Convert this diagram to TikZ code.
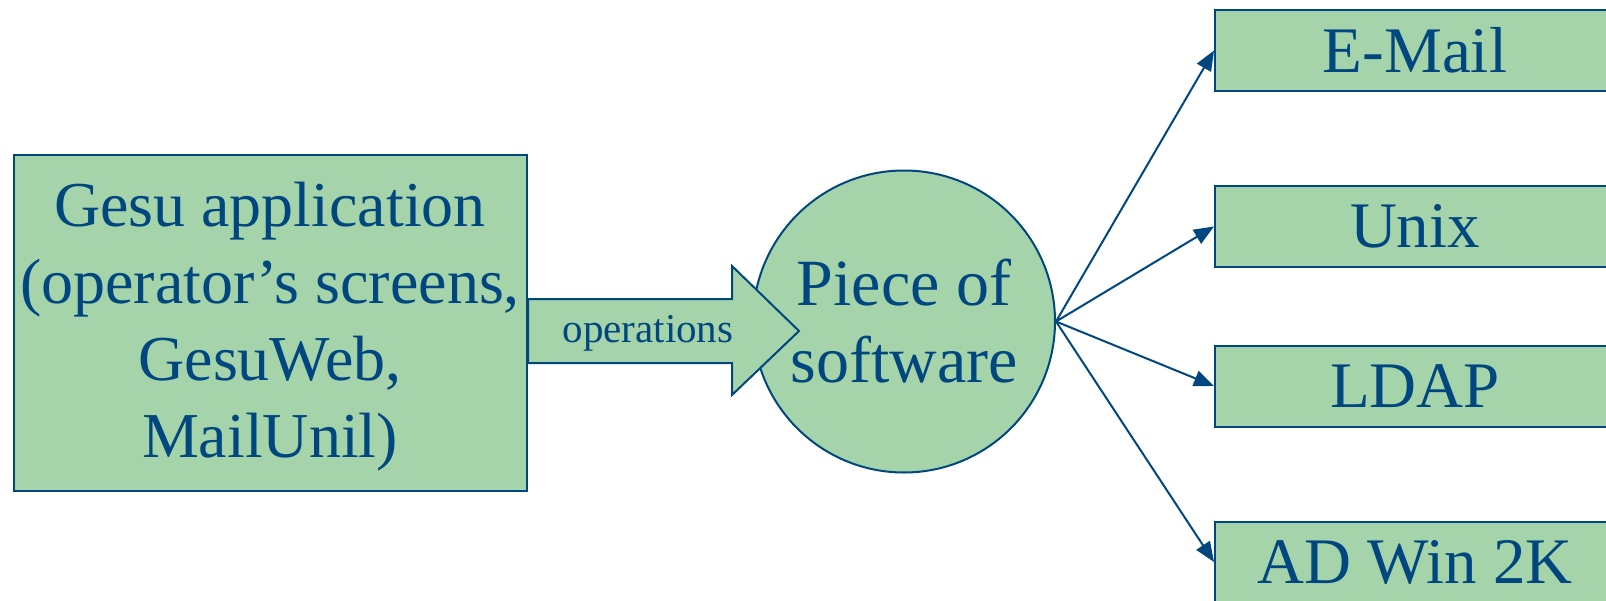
\documentclass[tikz,border=0pt]{standalone}
\usepackage{fontspec}
\setmainfont{Liberation Serif}
\usetikzlibrary{arrows.meta}
\definecolor{boxfill}{RGB}{166,212,170}
\definecolor{ink}{RGB}{0,70,127}
\begin{document}
\begin{tikzpicture}[x=0.5pt,y=-0.5pt,
  box/.style={draw=ink, fill=boxfill, line width=1pt, text=ink, inner sep=0pt,
    font=\fontsize{32.5}{38.5}\selectfont, align=center},
  txt/.style={text=ink, inner sep=0pt, align=center},
  target/.style={box, minimum width=200pt, minimum height=40.5pt},
  conn/.style={draw=ink, line width=1pt, -{Triangle[length=10pt,width=8pt]}},
  bigarrow/.style={draw=ink, fill=boxfill, line width=1pt, line join=miter}]
\useasboundingbox (0,0) rectangle (1606,600);
\clip (0,0) rectangle (1606,600);
\node[box, minimum width=256.5pt, minimum height=168pt] (gesu) at (270.5,323) {};
\node[txt, font=\fontsize{32}{38.5}\selectfont] (gesutxt) at (270,327)
  {Gesu application\\(operator’s screens,\\GesuWeb,\\MailUnil)};
\node[box, circle, minimum size=151pt, font=\fontsize{33}{38.5}\selectfont] (sw) at (904,321.5) {Piece of\\software};
\draw[bigarrow] (gesu.east |- 0,299) -- (732,299) -- (732,266) -- (799,331) -- (732,395)
  -- (732,363) -- (gesu.east |- 0,363) -- cycle;
\node[txt, font=\fontsize{20.5}{24}\selectfont] (ops) at (648,333) {operations};
\node[target] (email) at (1415,50.5) {E-Mail};
\node[target] (unix) at (1415,226.5) {Unix};
\node[target] (ldap) at (1415,386) {LDAP};
\node[target] (ad) at (1415,562) {AD Win 2K};
\draw[conn] (sw.east) -- (email.west);
\draw[conn] (sw.east) -- (unix.west);
\draw[conn] (sw.east) -- (ldap.west);
\draw[conn] (sw.east) -- (ad.west);
\end{tikzpicture}
\end{document}
